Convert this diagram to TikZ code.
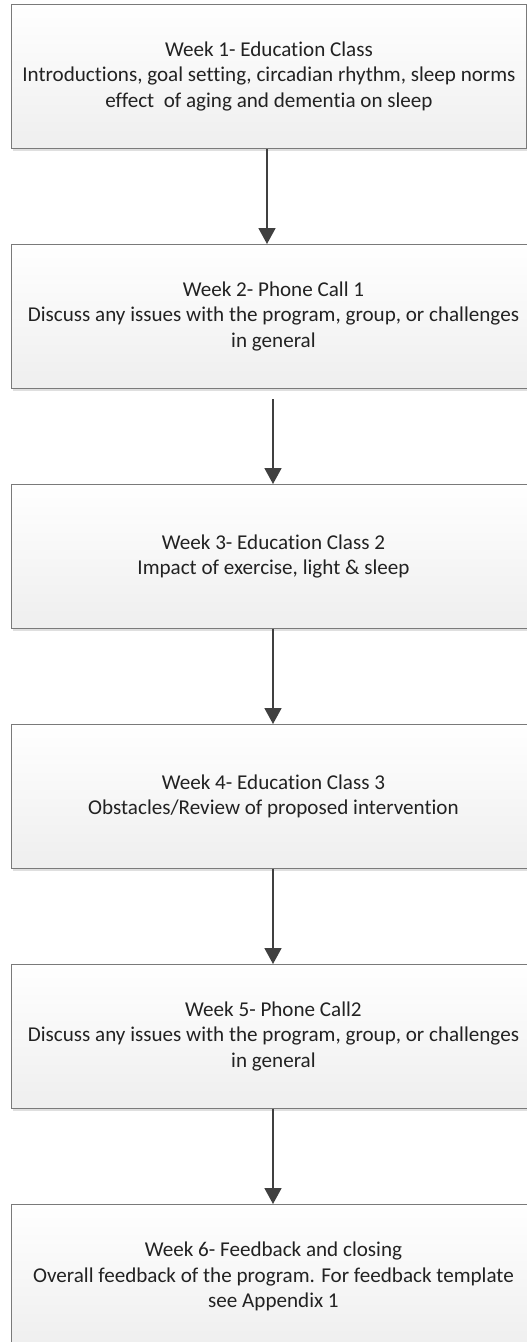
\documentclass[tikz,border=0pt]{standalone}
\usepackage{fontspec}
\setmainfont{Carlito}[Ligatures=NoCommon]
\usetikzlibrary{arrows.meta,shadows}
\definecolor{boxline}{HTML}{7A7A7A}
\definecolor{arrowcol}{HTML}{404040}
\definecolor{txtcol}{HTML}{222222}
\tikzset{
  weekbox/.style={rectangle, draw=boxline, line width=0.9pt,
    top color=white, bottom color=gray!13,
    drop shadow={shadow xshift=1.5pt, shadow yshift=-3pt, opacity=0.25, fill=gray},
    anchor=north west, minimum height=144pt, inner sep=0pt,
    align=center, text=txtcol,
    font=\fontsize{21.1}{25.2}\selectfont},
  flowarrow/.style={draw=arrowcol, line width=1.8pt,
    -{Triangle[width=17pt,length=16pt]}, arrowcol}
}
\begin{document}
\begin{tikzpicture}[x=1pt,y=-1pt]
\useasboundingbox (0,0) rectangle (527,1342);
\node[weekbox, minimum width=515pt] (b1) at (11,4)
  {Week 1- Education Class\\Introductions, goal setting, circadian rhythm, sleep norms\\effect\ \ of aging and dementia on sleep};
\node[weekbox, minimum width=524pt] (b2) at (11,244)
  {Week 2- Phone Call 1\\Discuss any issues with the program, group, or challenges\\in general};
\node[weekbox, minimum width=524pt] (b3) at (11,484)
  {Week 3- Education Class 2\\Impact of exercise, light \& sleep};
\node[weekbox, minimum width=524pt] (b4) at (11,724)
  {Week 4- Education Class 3\\Obstacles/Review of proposed intervention};
\node[weekbox, minimum width=524pt] (b5) at (11,964)
  {Week 5- Phone Call2\\Discuss any issues with the program, group, or challenges\\in general};
\node[weekbox, minimum width=524pt] (b6) at (11,1204)
  {Week 6- Feedback and closing\\Overall feedback of the program. For feedback template\\see Appendix 1};
\coordinate (s2) at (273,399);
\draw[flowarrow] (b1.south -| 267,0) -- (b2.north -| 267,0);
\draw[flowarrow] (s2) -- (b3.north -| s2);
\draw[flowarrow] (b3.south -| 273,0) -- (b4.north -| 273,0);
\draw[flowarrow] (b4.south -| 273,0) -- (b5.north -| 273,0);
\draw[flowarrow] (b5.south -| 273,0) -- (b6.north -| 273,0);
\end{tikzpicture}
\end{document}
